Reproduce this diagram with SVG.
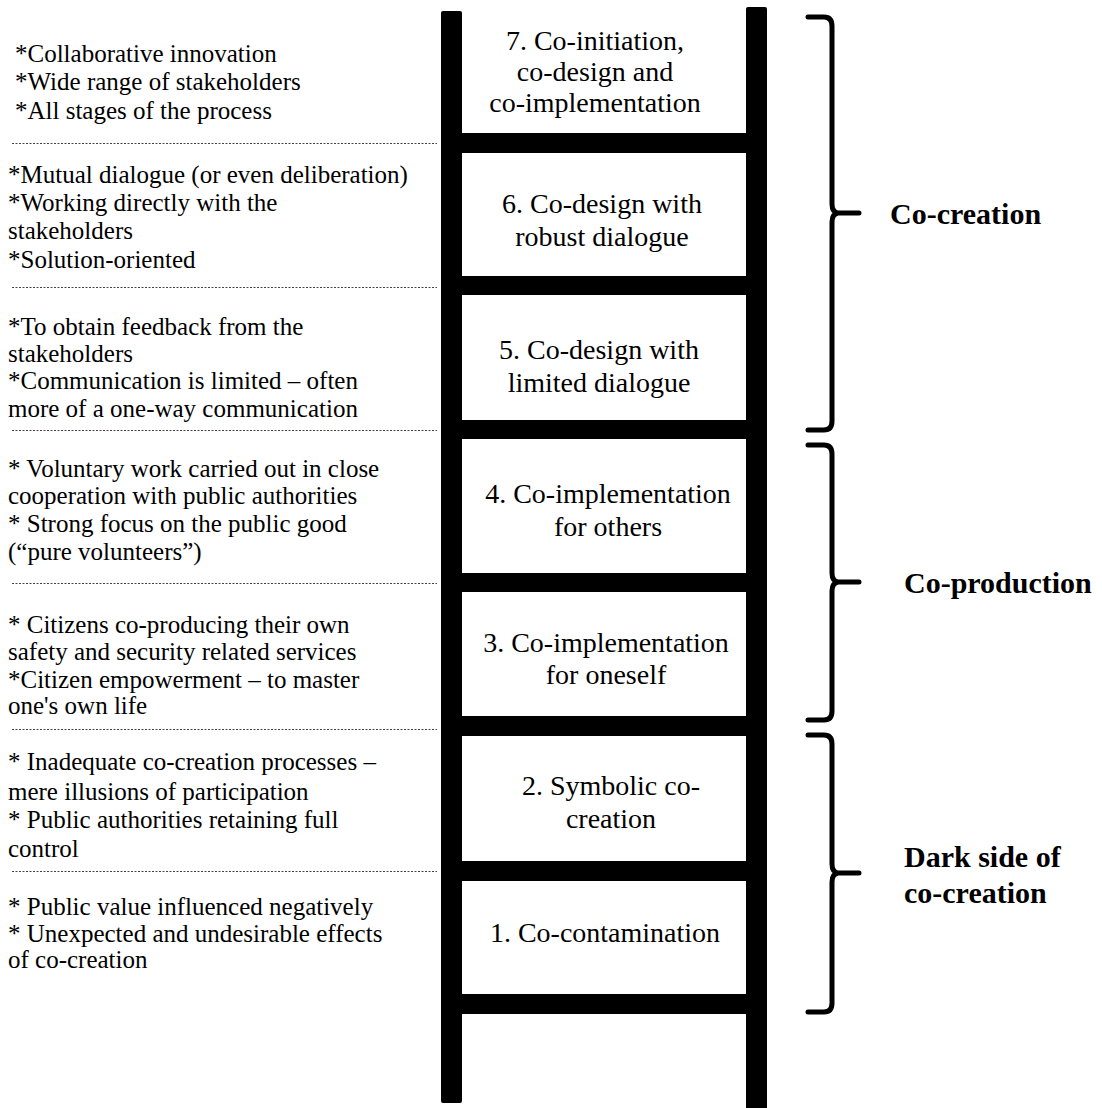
<svg xmlns="http://www.w3.org/2000/svg" width="1102" height="1108" viewBox="0 0 1102 1108">
<style>
.desc{font-family:"Liberation Serif","Times New Roman",serif;font-size:25px;fill:#000}
.step{font-family:"Liberation Serif","Times New Roman",serif;font-size:28px;fill:#000;text-anchor:middle}
.lab{font-family:"Liberation Serif","Times New Roman",serif;font-size:30px;font-weight:bold;fill:#000}
.dot{stroke:#444;stroke-width:1;stroke-dasharray:2 1.5;fill:none}
.brace{stroke:#000;stroke-width:5;fill:none;stroke-linecap:round;stroke-linejoin:round}
.bar{fill:#000}
</style>
<rect width="1102" height="1108" fill="#fff"/>
<g id="ladder">
<rect class="bar" x="441" y="11" width="21" height="1092" rx="2"/>
<rect class="bar" x="746" y="7" width="21" height="1105" rx="2"/>
<rect class="bar" x="462" y="133" width="284" height="20"/>
<rect class="bar" x="462" y="276" width="284" height="19"/>
<rect class="bar" x="462" y="420" width="284" height="19"/>
<rect class="bar" x="462" y="573" width="284" height="19"/>
<rect class="bar" x="462" y="716" width="284" height="20"/>
<rect class="bar" x="462" y="861" width="284" height="20"/>
<rect class="bar" x="462" y="994" width="284" height="20"/>
</g>
<g id="step7"><text class="step" x="595" y="50">7. Co-initiation,</text><text class="step" x="595" y="81">co-design and</text><text class="step" x="595" y="112">co-implementation</text></g>
<g id="step6"><text class="step" x="602" y="213">6. Co-design with</text><text class="step" x="602" y="246">robust dialogue</text></g>
<g id="step5"><text class="step" x="599" y="359">5. Co-design with</text><text class="step" x="599" y="392">limited dialogue</text></g>
<g id="step4"><text class="step" x="608" y="503">4. Co-implementation</text><text class="step" x="608" y="536">for others</text></g>
<g id="step3"><text class="step" x="606" y="652">3. Co-implementation</text><text class="step" x="606" y="684">for oneself</text></g>
<g id="step2"><text class="step" x="611" y="795">2. Symbolic co-</text><text class="step" x="611" y="828">creation</text></g>
<g id="step1"><text class="step" x="605" y="942">1. Co-contamination</text></g>
<g id="separators">
<line class="dot" x1="12" y1="143.5" x2="437" y2="143.5"/>
<line class="dot" x1="12" y1="287.5" x2="437" y2="287.5"/>
<line class="dot" x1="12" y1="430.5" x2="437" y2="430.5"/>
<line class="dot" x1="12" y1="583.5" x2="437" y2="583.5"/>
<line class="dot" x1="12" y1="729.5" x2="437" y2="729.5"/>
<line class="dot" x1="12" y1="871.5" x2="437" y2="871.5"/>
</g>
<g id="desc7"><text class="desc" x="15" y="62">*Collaborative innovation</text><text class="desc" x="15" y="90">*Wide range of stakeholders</text><text class="desc" x="15" y="119">*All stages of the process</text></g>
<g id="desc6"><text class="desc" x="8" y="183">*Mutual dialogue (or even deliberation)</text><text class="desc" x="8" y="211">*Working directly with the</text><text class="desc" x="8" y="239">stakeholders</text><text class="desc" x="8" y="268">*Solution-oriented</text></g>
<g id="desc5"><text class="desc" x="8" y="335">*To obtain feedback from the</text><text class="desc" x="8" y="362">stakeholders</text><text class="desc" x="8" y="389">*Communication is limited – often</text><text class="desc" x="8" y="417">more of a one-way communication</text></g>
<g id="desc4"><text class="desc" x="8" y="477">* Voluntary work carried out in close</text><text class="desc" x="8" y="504">cooperation with public authorities</text><text class="desc" x="8" y="532">* Strong focus on the public good</text><text class="desc" x="8" y="560">(“pure volunteers”)</text></g>
<g id="desc3"><text class="desc" x="8" y="633">* Citizens co-producing their own</text><text class="desc" x="8" y="660">safety and security related services</text><text class="desc" x="8" y="688">*Citizen empowerment – to master</text><text class="desc" x="8" y="714">one's own life</text></g>
<g id="desc2"><text class="desc" x="8" y="770">* Inadequate co-creation processes –</text><text class="desc" x="8" y="800">mere illusions of participation</text><text class="desc" x="8" y="828">* Public authorities retaining full</text><text class="desc" x="8" y="857">control</text></g>
<g id="desc1"><text class="desc" x="8" y="915">* Public value influenced negatively</text><text class="desc" x="8" y="942">* Unexpected and undesirable effects</text><text class="desc" x="8" y="968">of co-creation</text></g>
<g id="braces">
<path class="brace" d="M808,17 L824,17 Q832,17 832,26 L832,204 Q832,212 838,213 L859,213 M838,213 Q832,214 832,222 L832,421 Q832,430 824,430 L808,430"/>
<path class="brace" d="M808,445 L824,445 Q832,445 832,454 L832,573 Q832,581 838,582 L859,582 M838,582 Q832,583 832,591 L832,711 Q832,720 824,720 L808,720"/>
<path class="brace" d="M808,735 L824,735 Q832,735 832,744 L832,864 Q832,872 838,873 L859,873 M838,873 Q832,874 832,882 L832,1003 Q832,1012 824,1012 L808,1012"/>
</g>
<g id="labels">
<text class="lab" x="890" y="224">Co-creation</text>
<text class="lab" x="904" y="593">Co-production</text>
<text class="lab" x="904" y="867">Dark side of</text>
<text class="lab" x="904" y="903">co-creation</text>
</g>
</svg>
